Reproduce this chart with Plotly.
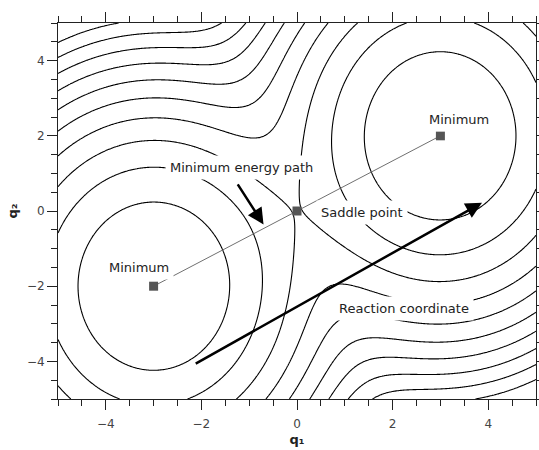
import numpy as np
import plotly.graph_objects as go

# Double-well free-energy surface: two Gaussian wells
well_q1 = [-3.0, 3.0]
well_q2 = [-2.0, 2.0]
var_q1 = 2.5
var_q2 = 5.0
levels_start, levels_end, levels_step = 0.5, 5.0, 0.5

# Stationary points along the minimum energy path
path_q1 = [-3.0, 0.0, 3.0]
path_q2 = [-2.0, 0.0, 2.0]

# Text labels: (text, q1, q2)
labels = [
    ("Minimum", 3.39, 2.44),
    ("Minimum", -3.30, -1.51),
    ("Saddle point", 1.36, -0.05),
    ("Minimum energy path", -1.16, 1.17),
    ("Reaction coordinate", 2.23, -2.58),
]

# Arrows: (tail q1, tail q2, head q1, head q2)
arrows = [
    (-1.26, 0.75, -0.70, -0.36),
    (-2.15, -4.08, 3.87, 0.22),
]

g1 = np.linspace(-5, 5, 401)
g2 = np.linspace(-5, 5, 401)
Q1, Q2 = np.meshgrid(g1, g2)
dens = np.zeros_like(Q1)
for m1, m2 in zip(well_q1, well_q2):
    dens += np.exp(-(Q1 - m1) ** 2 / (2 * var_q1) - (Q2 - m2) ** 2 / (2 * var_q2))
V = -np.log(dens)

fig = go.Figure()
fig.add_trace(go.Contour(
    x=g1, y=g2, z=V,
    contours=dict(coloring="lines", start=levels_start, end=levels_end, size=levels_step),
    colorscale=[[0, "black"], [1, "black"]],
    line=dict(width=1.1, color="black"),
    showscale=False, hoverinfo="skip",
))
fig.add_trace(go.Scatter(
    x=path_q1, y=path_q2, mode="lines+markers",
    line=dict(color="#707070", width=1),
    marker=dict(symbol="square", size=9, color="#555555"),
    hoverinfo="skip", showlegend=False,
))

font = "DejaVu Sans"
for text, x, y in labels:
    fig.add_annotation(x=x, y=y, text=text, showarrow=False,
                       font=dict(family=font, size=13, color="#222222"),
                       bgcolor="white", borderpad=4)
for tx, ty, hx, hy in arrows:
    fig.add_annotation(x=hx, y=hy, ax=tx, ay=ty, xref="x", yref="y",
                       axref="x", ayref="y", text="", showarrow=True,
                       arrowhead=2, arrowsize=1.3, arrowwidth=2.5, arrowcolor="black")

axis_common = dict(
    range=[-5, 5], showgrid=False, zeroline=False, automargin=False,
    showline=True, linecolor="#222222", linewidth=1, mirror="allticks",
    ticks="outside", ticklen=10, tickwidth=1, tickcolor="#222222",
    tickvals=[-4, -2, 0, 2, 4],
    minor=dict(dtick=0.5, tick0=0, ticks="outside", ticklen=6, tickcolor="#222222", tickwidth=1),
    tickfont=dict(family=font, size=12, color="#444444"),
)
fig.update_xaxes(**axis_common, ticklabelstandoff=4,
                 title=dict(text="<b>q₁</b>", font=dict(family=font, size=13, color="#222222"), standoff=4))
fig.update_yaxes(**axis_common,
                 title=dict(text="<b>q₂</b>", font=dict(family=font, size=13, color="#222222"), standoff=6))

fig.update_layout(
    width=539, height=450,
    margin=dict(l=58, r=3, t=23, b=51),
    paper_bgcolor="white", plot_bgcolor="white",
    showlegend=False,
)
fig.write_html("out.html")
